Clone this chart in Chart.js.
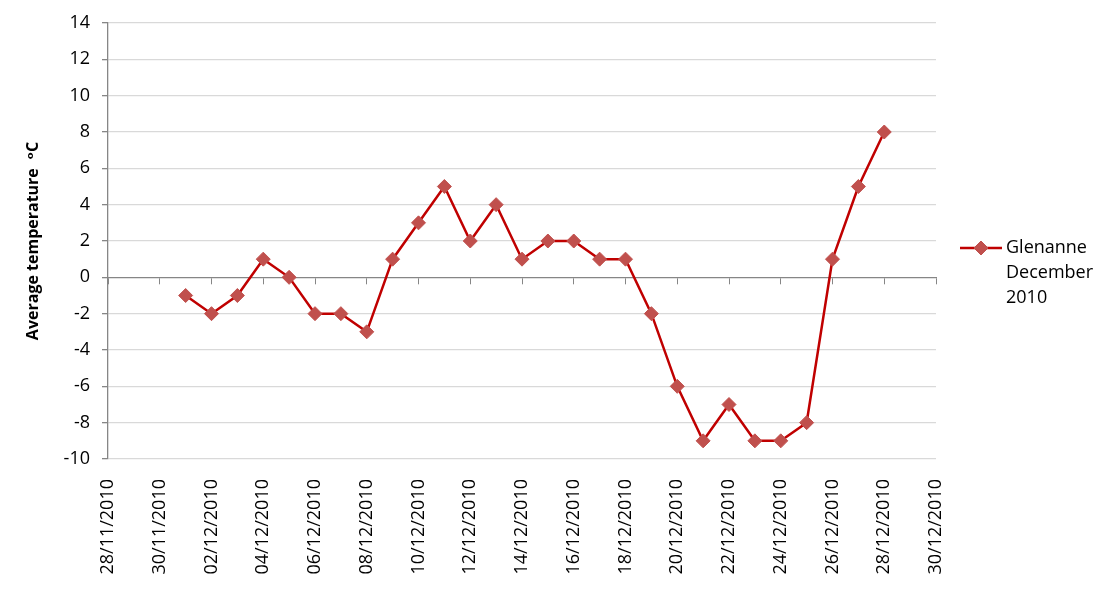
<!DOCTYPE html>
<html>
<head>
<meta charset="utf-8">
<script src="https://cdn.jsdelivr.net/npm/chart.js@4/dist/chart.umd.min.js"></script>
<style>
  html, body { margin: 0; padding: 0; background: #fff; }
  canvas { display: block; }
</style>
</head>
<body>
<canvas id="tempChart" width="1116" height="610"></canvas>
<script>
// Daily readings, Glenanne December 2010
const dates = [
  "01/12/2010", "02/12/2010", "03/12/2010", "04/12/2010", "05/12/2010", "06/12/2010", "07/12/2010",
  "08/12/2010", "09/12/2010", "10/12/2010", "11/12/2010", "12/12/2010", "13/12/2010", "14/12/2010",
  "15/12/2010", "16/12/2010", "17/12/2010", "18/12/2010", "19/12/2010", "20/12/2010", "21/12/2010",
  "22/12/2010", "23/12/2010", "24/12/2010", "25/12/2010", "26/12/2010", "27/12/2010", "28/12/2010"
];
const temps = [
  -1, -2, -1, 1, 0, -2, -2,
  -3, 1, 3, 5, 2, 4, 1,
  2, 2, 1, 1, -2, -6, -9,
  -7, -9, -9, -8, 1, 5, 8
];
const xTickLabels = [
  "28/11/2010", "30/11/2010", "02/12/2010", "04/12/2010", "06/12/2010", "08/12/2010",
  "10/12/2010", "12/12/2010", "14/12/2010", "16/12/2010", "18/12/2010", "20/12/2010",
  "22/12/2010", "24/12/2010", "26/12/2010", "28/12/2010", "30/12/2010"
];
const seriesName = ["Glenanne", "December", "2010"];

const FONT = "'Open Sans', 'DejaVu Sans', sans-serif";
const LINE_RED = "#C00000";
const MARK_RED = "#C0504D";
const AXIS_GREY = "#868686";
const GRID_GREY = "#D9D9D9";

// x is days since the first tick label
function dayNumber(str) {
  const [d, m, y] = str.split("/").map(Number);
  const [d0, m0, y0] = xTickLabels[0].split("/").map(Number);
  return Math.round((Date.UTC(y, m - 1, d) - Date.UTC(y0, m0 - 1, d0)) / 86400000);
}

const points = dates.map((d, i) => ({ x: dayNumber(d), y: temps[i] }));
const xMax = dayNumber(xTickLabels[xTickLabels.length - 1]);

// legend drawn to the right, Excel style (line + marker, wrapped text)
const sideLegend = {
  id: "sideLegend",
  afterDraw(chart) {
    const ctx = chart.ctx;
    const ds = chart.data.datasets[0];
    const x0 = chart.chartArea.right + 24;
    const y0 = 248;
    ctx.save();
    ctx.strokeStyle = ds.borderColor;
    ctx.lineWidth = ds.borderWidth;
    ctx.beginPath();
    ctx.moveTo(x0, y0);
    ctx.lineTo(x0 + 42, y0);
    ctx.stroke();
    ctx.fillStyle = ds.pointBackgroundColor;
    ctx.strokeStyle = ds.pointBorderColor;
    ctx.lineWidth = 1;
    Chart.helpers.drawPoint(ctx, { pointStyle: "rectRot", radius: ds.pointRadius, borderWidth: 1 }, x0 + 21, y0);
    ctx.fillStyle = "#000";
    ctx.font = "18px " + FONT;
    ctx.textBaseline = "middle";
    ctx.textAlign = "left";
    seriesName.forEach((t, i) => ctx.fillText(t, x0 + 46, y0 + i * 25));
    ctx.restore();
  }
};

new Chart(document.getElementById("tempChart"), {
  type: "line",
  data: {
    datasets: [{
      label: seriesName.join(" "),
      data: points,
      borderColor: LINE_RED,
      borderWidth: 2.5,
      tension: 0,
      pointStyle: "rectRot",
      pointRadius: 7,
      pointBackgroundColor: MARK_RED,
      pointBorderColor: MARK_RED,
      pointBorderWidth: 1
    }]
  },
  options: {
    responsive: false,
    animation: false,
    layout: { padding: { left: 20, right: 180, top: 23, bottom: 0 } },
    plugins: {
      legend: { display: false },
      tooltip: { enabled: false }
    },
    scales: {
      x: {
        type: "linear",
        position: "bottom",
        min: 0,
        max: xMax,
        afterBuildTicks(scale) {
          scale.ticks = xTickLabels.map((_, i) => ({ value: i * 2 }));
        },
        afterFit(scale) { scale.height = 151; },
        border: { display: false },
        grid: { display: false, drawTicks: false },
        ticks: {
          minRotation: 90,
          maxRotation: 90,
          padding: 20,
          color: "#000",
          font: { family: FONT, size: 18 },
          callback: (v, i) => xTickLabels[i]
        }
      },
      x2: {
        type: "linear",
        axis: "x",
        position: { y: 0 },
        min: 0,
        max: xMax,
        afterBuildTicks(scale) {
          scale.ticks = xTickLabels.map((_, i) => ({ value: i * 2 }));
        },
        border: { display: true, color: AXIS_GREY, width: 1.3 },
        grid: { drawOnChartArea: false, drawTicks: true, tickLength: 6, color: AXIS_GREY },
        ticks: { display: false }
      },
      y: {
        min: -10,
        max: 14,
        afterFit(scale) { scale.width = 88; },
        border: { display: true, color: AXIS_GREY, width: 1.3 },
        grid: {
          color: ctx => (ctx.tick && ctx.tick.value === 0 ? "rgba(0,0,0,0)" : GRID_GREY),
          tickColor: AXIS_GREY,
          tickLength: 6,
          lineWidth: 1.3
        },
        ticks: {
          stepSize: 2,
          padding: 12,
          color: "#000",
          font: { family: FONT, size: 18 }
        },
        title: {
          display: true,
          text: "Average temperature  \u1D52C",
          color: "#000",
          padding: { top: 4, bottom: 0 },
          font: { family: FONT, size: 16, weight: "bold" }
        }
      }
    }
  },
  plugins: [sideLegend]
});
</script>
</body>
</html>
